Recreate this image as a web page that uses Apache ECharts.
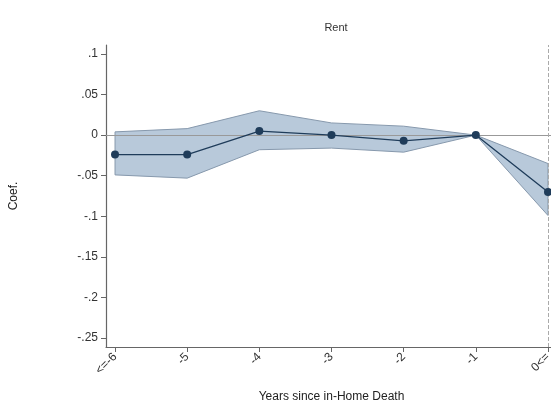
<!DOCTYPE html>
<html><head><meta charset="utf-8">
<script src="https://cdn.jsdelivr.net/npm/echarts@6/dist/echarts.min.js"></script>
<style>html,body{margin:0;padding:0;background:#fff}#c{width:551px;height:400px}</style>
</head><body><div id="c"></div>
<script>
const years = [-6, -5, -4, -3, -2, -1, 0];
const yearLabels = ['<=-6', '-5', '-4', '-3', '-2', '-1', '0<='];
const coef = [-0.024, -0.024, 0.005, 0.000, -0.007, 0.000, -0.070];
const ciLow = [-0.049, -0.053, -0.018, -0.016, -0.021, 0.000, -0.099];
const ciHigh = [0.004, 0.008, 0.030, 0.015, 0.011, 0.000, -0.035];
const yTicks = [-0.25, -0.2, -0.15, -0.1, -0.05, 0, 0.05, 0.1];

function stataFmt(v) {
  if (Math.abs(v) < 1e-9) return '0';
  let s = String(+v.toFixed(2));
  return s.replace(/^(-?)0\./, '$1.');
}

const chart = echarts.init(document.getElementById('c'));
const font = 'Liberation Sans, Arial, sans-serif';
const bandData = years.map((x, i) => [x, ciLow[i], ciHigh[i]]);

chart.setOption({
  animation: false,
  backgroundColor: '#fff',
  title: {
    text: 'Rent', left: 331, top: 17, textAlign: 'center',
    textStyle: { fontFamily: font, fontSize: 11, fontWeight: 'normal', color: '#333' }
  },
  grid: { left: 106, right: -6, top: 45, bottom: 53, containLabel: false, outerBoundsMode: 'none' },
  xAxis: {
    type: 'value', min: -6.125, max: 0.125,
    name: 'Years since in-Home Death', nameLocation: 'middle', nameGap: 44,
    nameTextStyle: { fontFamily: font, fontSize: 12, color: '#222' },
    axisLine: { show: true, onZero: false, lineStyle: { color: '#666', width: 1.2 } },
    axisTick: { show: true, length: 5, lineStyle: { color: '#666' }, customValues: years },
    axisLabel: {
      rotate: 45, margin: 8, fontFamily: font, fontSize: 12, color: '#333',
      customValues: years,
      formatter: v => yearLabels[years.indexOf(Math.round(v))]
    },
    splitLine: { show: false }
  },
  yAxis: {
    type: 'value', min: -0.261, max: 0.111,
    name: 'Coef.', nameLocation: 'middle', nameGap: 86, nameRotate: 90,
    nameTextStyle: { fontFamily: font, fontSize: 12, color: '#222' },
    axisLine: { show: true, onZero: false, lineStyle: { color: '#666', width: 1.2 } },
    axisTick: { show: true, length: 5, lineStyle: { color: '#666' }, customValues: yTicks },
    axisLabel: {
      margin: 8, fontFamily: font, fontSize: 12, color: '#333',
      customValues: yTicks, formatter: stataFmt
    },
    splitLine: { show: false }
  },
  series: [
    {
      type: 'custom', data: bandData, z: 1, silent: true,
      renderItem: function (params, api) {
        if (params.dataIndex !== 0) return;
        const up = [], lo = [];
        for (let i = 0; i < bandData.length; i++) {
          up.push(api.coord([bandData[i][0], bandData[i][2]]));
          lo.push(api.coord([bandData[i][0], bandData[i][1]]));
        }
        const pts = up.concat(lo.slice().reverse());
        return {
          type: 'polygon',
          shape: { points: pts },
          style: { fill: '#b8c9da', stroke: '#8799ad', lineWidth: 1 }
        };
      },
      encode: { x: 0, y: [1, 2] }
    },
    {
      type: 'line', data: [], symbol: 'none',
      markLine: {
        silent: true, symbol: 'none', label: { show: false }, z: 2,
        data: [
          { yAxis: 0, lineStyle: { color: '#999', type: 'solid', width: 1 } },
          { xAxis: 0, lineStyle: { color: '#aaa', type: 'dashed', width: 1 } }
        ]
      }
    },
    {
      type: 'line', data: years.map((x, i) => [x, coef[i]]),
      symbol: 'circle', symbolSize: 8,
      lineStyle: { color: '#1f3c5a', width: 1.3 },
      itemStyle: { color: '#1f3c5a' }, z: 3
    }
  ]
});
</script></body></html>
